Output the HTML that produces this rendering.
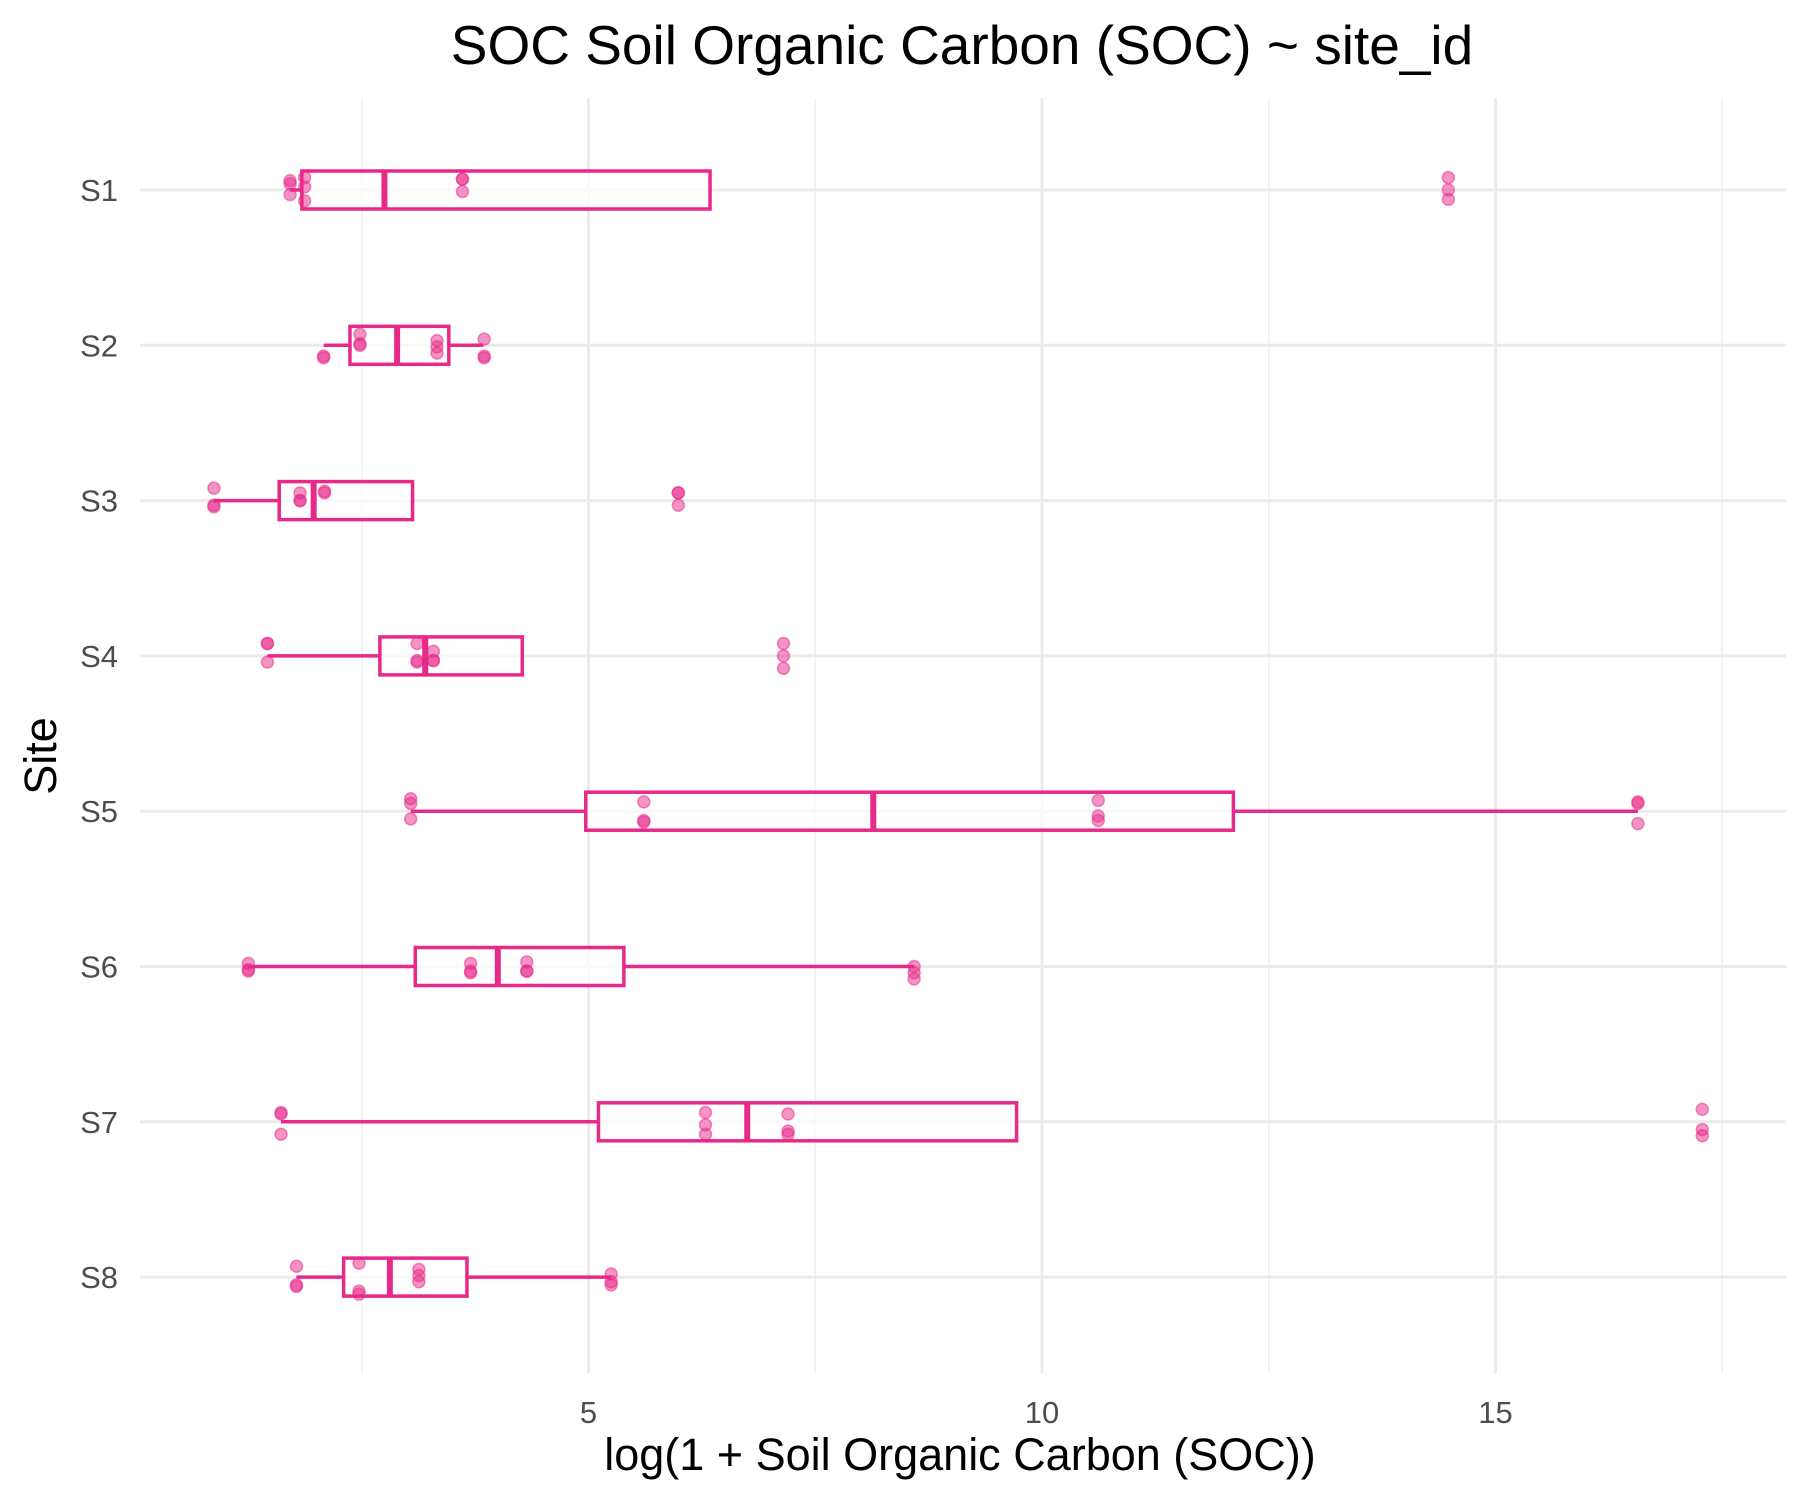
<!DOCTYPE html>
<html><head><meta charset="utf-8"><style>
html,body{margin:0;padding:0;background:#fff;}
svg{display:block;font-family:"Liberation Sans",Arial,sans-serif;}
</style></head><body>
<svg id="chart" width="1800" height="1500" viewBox="0 0 1800 1500" xmlns="http://www.w3.org/2000/svg">
<text x="962" y="64" text-anchor="middle" font-size="55" fill="#000">SOC Soil Organic Carbon (SOC) ~ site_id</text>
<g id="grid"></g><g id="marks"></g><g id="axes"></g>
<text x="960" y="1470" text-anchor="middle" font-size="45" fill="#000">log(1 + Soil Organic Carbon (SOC))</text>
<text transform="translate(56,756) rotate(-90)" text-anchor="middle" font-size="45" fill="#000">Site</text>
</svg>
<script>
const sites=["S1","S2","S3","S4","S5","S6","S7","S8"];
const whiskerLow=[1.71,2.08,0.87,1.46,3.04,1.25,1.61,1.78];
const q1=[1.84,2.37,1.59,2.70,4.97,3.09,5.11,2.30];
const median=[2.75,2.89,1.97,3.20,8.14,4.00,6.75,2.81];
const q3=[6.34,3.46,3.06,4.27,12.11,5.39,9.72,3.66];
const whiskerHigh=[1.84,3.84,3.06,4.27,16.57,8.59,1.61,5.25];
const pointValues=[
 [1.71,1.71,1.71,1.87,1.87,1.87,3.61,3.61,3.61,14.48,14.48,14.48],
 [2.08,2.08,2.48,2.48,2.48,3.33,3.33,3.33,3.85,3.85,3.85],
 [0.87,0.87,0.87,1.82,1.82,1.82,2.09,2.09,5.99,5.99,5.99],
 [1.46,1.46,1.46,3.11,3.11,3.11,3.29,3.29,3.29,7.15,7.15,7.15],
 [3.04,3.04,3.04,5.61,5.61,5.61,10.62,10.62,10.62,16.57,16.57,16.57],
 [1.25,1.25,1.25,3.70,3.70,3.70,4.32,4.32,4.32,8.59,8.59,8.59],
 [1.61,1.61,1.61,6.29,6.29,6.29,7.20,7.20,7.20,17.28,17.28,17.28],
 [1.78,1.78,1.78,2.47,2.47,2.47,3.13,3.13,3.13,5.25,5.25,5.25]
];
const pointJitter=[
 [-0.06,-0.04,0.03,-0.08,-0.02,0.07,-0.07,-0.07,0.01,-0.08,0,0.06],
 [0.07,0.08,-0.07,-0.01,0,-0.03,0.01,0.05,-0.04,0.07,0.08],
 [-0.08,0.03,0.04,-0.05,0,0,-0.06,-0.05,-0.05,-0.05,0.03],
 [-0.08,-0.08,0.04,-0.08,0.04,0.03,-0.03,0.03,0.03,-0.08,0,0.08],
 [-0.08,-0.05,0.05,-0.06,0.06,0.07,-0.07,0.03,0.06,-0.06,-0.05,0.08],
 [-0.02,0.02,0.03,-0.02,0.03,0.04,-0.03,0.03,0.03,0,0.04,0.08],
 [-0.06,-0.05,0.08,-0.06,0.02,0.08,-0.05,0.06,0.08,-0.08,0.05,0.09],
 [-0.07,0.05,0.06,-0.09,0.09,0.11,-0.05,-0.01,0.03,-0.02,0.03,0.05]
];
const xTicks=[5,10,15];
const xMinor=[2.5,7.5,12.5,17.5];
const NS="http://www.w3.org/2000/svg";
const X0=135,XU=90.7,PL=140,PR=1786,PT=98,PB=1373,Y1=190,YS=155.3;
const xs=v=>X0+v*XU;
const ys=i=>Y1+i*YS;
function mk(tag,attrs,parent){const e=document.createElementNS(NS,tag);for(const k in attrs)e.setAttribute(k,attrs[k]);parent.appendChild(e);return e;}
const grid=document.getElementById('grid'),marks=document.getElementById('marks'),axes=document.getElementById('axes');
xMinor.forEach(v=>{const l=mk('line',{x1:xs(v),x2:xs(v),y1:PT,y2:PB,stroke:'#f0f0f0','stroke-width':1.5},grid);

});
xTicks.forEach(v=>{const l=mk('line',{x1:xs(v),x2:xs(v),y1:PT,y2:PB,stroke:'#ebebeb','stroke-width':3},grid);


const t=mk('text',{x:xs(v),y:1423,'text-anchor':'middle','font-size':31,fill:'#4d4d4d'},axes);t.textContent=v;

});
sites.forEach((s,i)=>{const y=ys(i);
const l=mk('line',{x1:PL,x2:PR,y1:y,y2:y,stroke:'#ebebeb','stroke-width':3},grid);


const t=mk('text',{x:118,y:y+11,'text-anchor':'end','font-size':31,fill:'#4d4d4d'},axes);t.textContent=s;


const g=mk('g',{},marks);


const c='#e7298a',h=19;
mk('line',{x1:xs(whiskerLow[i]),x2:xs(q1[i]),y1:y,y2:y,stroke:c,'stroke-width':3.5},g);
mk('line',{x1:xs(q3[i]),x2:xs(Math.max(whiskerHigh[i],q3[i])),y1:y,y2:y,stroke:c,'stroke-width':3.5},g);
mk('rect',{x:xs(q1[i]),y:y-h,width:xs(q3[i])-xs(q1[i]),height:2*h,fill:'#fff','fill-opacity':0.7,stroke:c,'stroke-width':3.5},g);
mk('line',{x1:xs(median[i]),x2:xs(median[i]),y1:y-h,y2:y+h,stroke:c,'stroke-width':6},g);
pointValues[i].forEach((v,j)=>{const p=mk('circle',{cx:xs(v),cy:y+pointJitter[i][j]*YS,r:6,fill:c,'fill-opacity':0.5,stroke:c,'stroke-opacity':0.5,'stroke-width':1.5},marks);

});
});
</script>
</body></html>
